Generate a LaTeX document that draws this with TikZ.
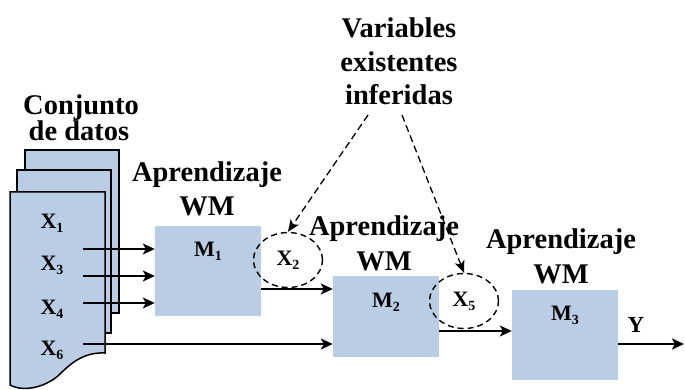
\documentclass[tikz,border=0pt]{standalone}
\usepackage{fontspec}
\setmainfont{Liberation Serif}
\usetikzlibrary{arrows.meta,shapes.geometric}
\definecolor{sheetblue}{RGB}{185,205,229}
% smaller, lowered index digit
\newcommand{\lowidx}[1]{\raisebox{-4pt}{\fontsize{14}{14}\selectfont #1}}

\begin{document}
\begin{tikzpicture}[x=1pt,y=-1pt,
  every node/.style={inner sep=0pt},
  heading/.style={font=\fontsize{28.5}{33}\selectfont\bfseries, anchor=base},
  varlabel/.style={font=\fontsize{22}{24}\selectfont\bfseries, anchor=base},
  modelbox/.style={rectangle, fill=sheetblue, minimum width=106pt},
  sheet/.style={fill=sheetblue, draw=black, line width=1.5pt},
  flow/.style={line width=1.8pt, -{Stealth[length=12pt,width=11pt,inset=3pt]}},
  hint/.style={line width=1.3pt, dash pattern=on 7pt off 4pt, -{Stealth[length=12pt,width=10pt,inset=3pt]}},
  infer/.style={ellipse, draw, line width=1.4pt, dash pattern=on 6pt off 4pt,
    minimum width=69pt, minimum height=55pt, font=\fontsize{22}{24}\selectfont\bfseries}]
\useasboundingbox (0,0) rectangle (685,390);

% stacked data sheets
\filldraw[sheet] (25,150) rectangle (119,313);
\filldraw[sheet] (17,170) rectangle (111,333);
\filldraw[sheet] (10,192) -- (105,192) -- (105,353)
  .. controls (85,352) and (72,362) .. (60,374)
  .. controls (48,386) and (25,393) .. (10,385) -- cycle;

% headings
\node[heading] (cj1) at (81,115) {Conjunto};
\node[heading] (cj2) at (79,141) {de datos};
\node[heading] (va1) at (399,38) {Variables};
\node[heading] (va2) at (399,72) {existentes};
\node[heading] (va3) at (399,105) {inferidas};
\node[heading] (ap1) at (207,182) {Aprendizaje};
\node[heading] (wm1) at (207,215) {WM};
\node[heading] (ap2) at (384,235) {Aprendizaje};
\node[heading] (wm2) at (384,270) {WM};
\node[heading] (ap3) at (561,248) {Aprendizaje};
\node[heading] (wm3) at (561,283) {WM};

% variables in the data set
\node[varlabel] (x1) at (52,228) {X\lowidx{1}};
\node[varlabel] (x3) at (52,270) {X\lowidx{3}};
\node[varlabel] (x4) at (52,314) {X\lowidx{4}};
\node[varlabel] (x6) at (52,355) {X\lowidx{6}};

% models
\node[modelbox, minimum height=90pt] (m1) at (208,271) {};
\node[modelbox, minimum height=81pt] (m2) at (386,316.5) {};
\node[modelbox, minimum height=90pt] (m3) at (565,335) {};
\node[varlabel] (l1) at (208,256) {M\lowidx{1}};
\node[varlabel] (l2) at (386,307) {M\lowidx{2}};
\node[varlabel] (l3) at (565,320) {M\lowidx{3}};

% inferred variables
\node[infer] (e2) at (288,260) {X\lowidx{2}};
\node[infer] (e5) at (464,301) {X\lowidx{5}};

% connector ends
\coordinate (s1) at (83,249);
\coordinate (s3) at (83,276);
\coordinate (s4) at (83,303);
\coordinate (s6) at (83,344);
\coordinate (o1) at (261,289);
\coordinate (o2) at (439,331);
\coordinate (out) at (684,344);
\coordinate (v1) at (368,115);
\coordinate (v2) at (402,115);

\draw[flow] (s1) -- (s1 -| m1.west);
\draw[flow] (s3) -- (s3 -| m1.west);
\draw[flow] (s4) -- (s4 -| m1.west);
\draw[flow] (s6) -- (s6 -| m2.west);
\draw[flow] (o1) -- (o1 -| m2.west);
\draw[flow] (o2) -- (o2 -| m3.west);
\draw[flow] (m3.east |- out) -- (out);
\node[varlabel, font=\fontsize{23}{24}\selectfont\bfseries] (yl) at (636,332) {Y};

\draw[hint] (v1) -- (e2.north);
\draw[hint] (v2) -- (e5.north);
\end{tikzpicture}
\end{document}
